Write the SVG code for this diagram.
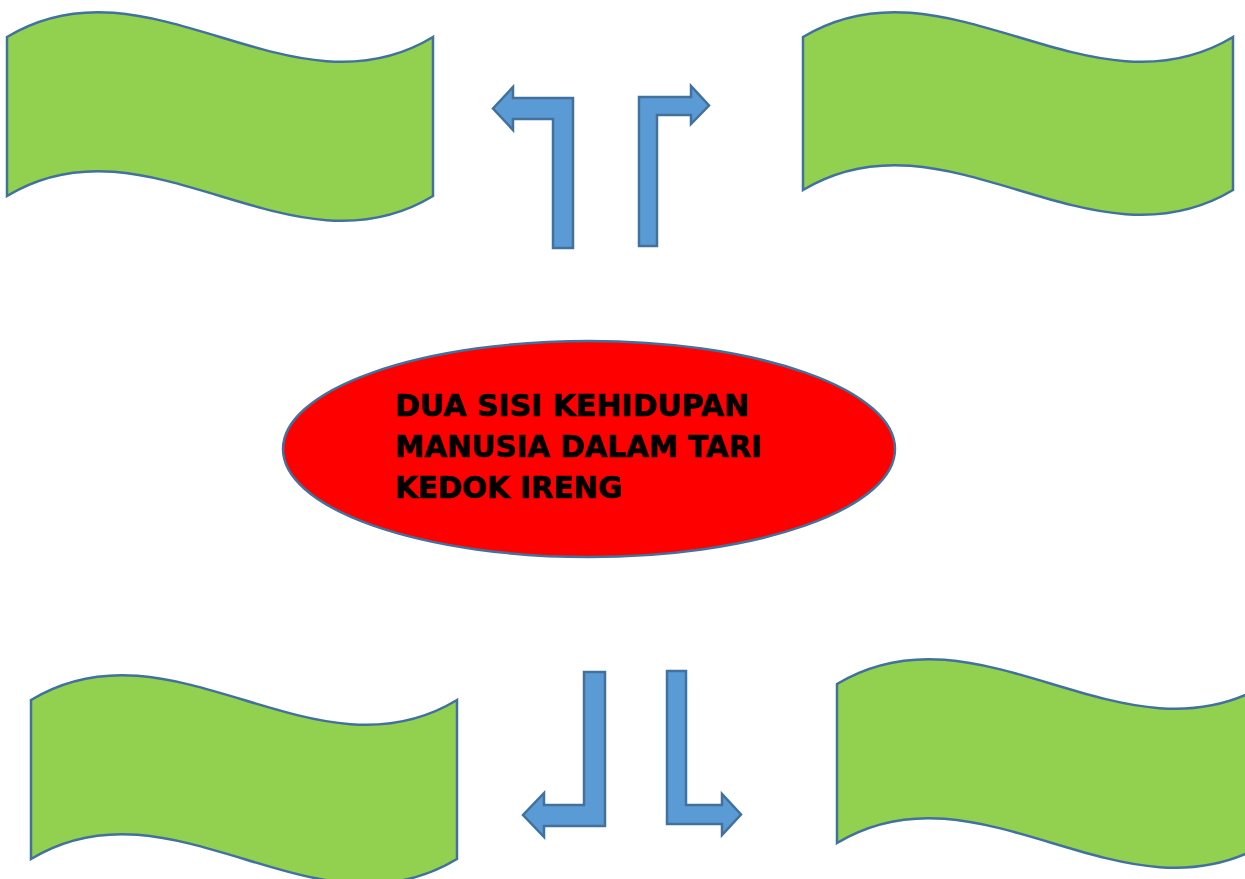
<svg xmlns="http://www.w3.org/2000/svg" width="1245" height="879" viewBox="0 0 1245 879">
<style>
.wave{fill:#92D050;stroke:#41719C;stroke-width:2.5}
.arr{fill:#5B9BD5;stroke:#41719C;stroke-width:2.5}
.title{font-family:"DejaVu Sans",Verdana,sans-serif;font-weight:bold;font-size:30px;fill:#000;stroke:#000;stroke-width:0.7}
</style>
<rect width="1245" height="879" fill="#fff"/>
<g id="banner-top-left"><path class="wave" d="M7,37 C149,-49 291,123 433,37 L433,196 C291,282 149,110 7,196 Z"/></g>
<g id="banner-top-right"><path class="wave" d="M803,37 C946,-49 1090,123 1233,37 L1233,190 C1090,276 946,104 803,190 Z"/></g>
<g id="banner-bottom-left"><path class="wave" d="M31,700 C173,614 315,786 457,700 L457,859 C315,945 173,773 31,859 Z"/></g>
<g id="banner-bottom-right"><path class="wave" d="M837,684 C980,598 1124,770 1267,684 L1267,843 C1124,929 980,757 837,843 Z"/></g>
<g id="center">
<ellipse cx="589" cy="449" rx="306" ry="108" fill="#FF0000" stroke="#41719C" stroke-width="2.5"/>
<text class="title" x="395" y="416" textLength="354" lengthAdjust="spacingAndGlyphs">DUA SISI KEHIDUPAN</text>
<text class="title" x="395" y="457" textLength="367" lengthAdjust="spacingAndGlyphs">MANUSIA DALAM TARI</text>
<text class="title" x="395" y="498" textLength="227" lengthAdjust="spacingAndGlyphs">KEDOK IRENG</text>
</g>
<g id="connectors">
<path class="arr" d="M573,248 L553,248 L553,119 L513,119 L513,130 L493,108.5 L513,87 L513,98 L573,98 Z"/>
<path class="arr" d="M639,246 L639,97 L691,97 L691,86 L709,105.5 L691,124 L691,115 L657,115 L657,246 Z"/>
<path class="arr" d="M584,672 L605,672 L605,826 L544,826 L544,837 L523,815 L544,793 L544,805 L584,805 Z"/>
<path class="arr" d="M667,671 L686,671 L686,805 L722,805 L722,794 L741,814.5 L722,835 L722,824 L667,824 Z"/>
</g>
</svg>
